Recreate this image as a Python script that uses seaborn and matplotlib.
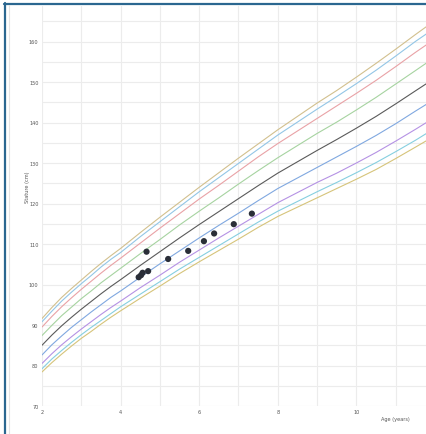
import matplotlib
matplotlib.use("Agg")
import matplotlib.pyplot as plt
from matplotlib.lines import Line2D
import pandas as pd
import seaborn as sns

# ---- data ----
ages = [2, 2.25, 2.5, 2.75, 3, 3.25, 3.5, 3.75, 4, 4.5, 5, 5.5, 6, 6.5, 7, 7.5,
        8, 8.5, 9, 9.5, 10, 10.5, 11, 11.5, 11.8]
p97 = [91.6, 94.3, 96.8, 99.0, 101.1, 103.2, 105.2, 107.1, 108.9, 112.8, 116.6, 120.3,
       124.0, 127.6, 131.2, 134.7, 138.2, 141.5, 144.8, 147.9, 151.2, 154.6, 158.1, 161.7, 163.8]
p95 = [90.8, 93.4, 95.9, 98.1, 100.2, 102.2, 104.3, 106.2, 107.9, 111.8, 115.5, 119.2,
       122.9, 126.4, 129.9, 133.4, 136.9, 140.1, 143.3, 146.4, 149.6, 152.9, 156.4, 160.0, 162.0]
p90 = [89.5, 92.1, 94.5, 96.7, 98.8, 100.8, 102.8, 104.7, 106.5, 110.2, 113.9, 117.5,
       121.1, 124.5, 128.0, 131.5, 134.8, 137.9, 141.0, 144.1, 147.2, 150.4, 153.8, 157.3, 159.3]
p75 = [87.4, 89.9, 92.3, 94.4, 96.5, 98.4, 100.4, 102.2, 104.0, 107.6, 111.1, 114.7,
       118.1, 121.4, 124.8, 128.1, 131.3, 134.3, 137.3, 140.1, 143.1, 146.2, 149.5, 152.8, 154.8]
p50 = [85.0, 87.5, 89.8, 91.9, 93.9, 95.8, 97.7, 99.5, 101.2, 104.7, 108.1, 111.5,
       114.8, 118.0, 121.2, 124.4, 127.5, 130.3, 133.1, 135.8, 138.6, 141.5, 144.6, 147.8, 149.7]
p25 = [82.6, 85.1, 87.3, 89.4, 91.3, 93.2, 95.0, 96.8, 98.4, 101.8, 105.1, 108.3,
       111.5, 114.6, 117.6, 120.7, 123.7, 126.3, 128.9, 131.5, 134.1, 136.8, 139.7, 142.8, 144.6]
p10 = [80.5, 82.9, 85.1, 87.1, 89.0, 90.8, 92.6, 94.3, 95.9, 99.2, 102.3, 105.5,
       108.5, 111.5, 114.4, 117.3, 120.2, 122.7, 125.2, 127.5, 130.0, 132.6, 135.4, 138.3, 140.1]
p5 = [79.2, 81.6, 83.7, 85.7, 87.6, 89.4, 91.1, 92.8, 94.5, 97.6, 100.7, 103.8,
      106.7, 109.6, 112.5, 115.4, 118.1, 120.5, 122.9, 125.2, 127.6, 130.1, 132.8, 135.6, 137.4]
p3 = [78.4, 80.7, 82.8, 84.8, 86.7, 88.4, 90.2, 91.9, 93.5, 96.6, 99.6, 102.7,
      105.6, 108.4, 111.2, 114.1, 116.8, 119.1, 121.4, 123.7, 126.0, 128.4, 131.1, 133.9, 135.6]

pt_age = [4.66, 4.46, 4.52, 4.56, 4.70, 5.21, 5.72, 6.12, 6.38, 6.88, 7.34]
pt_stature = [108.1, 101.8, 102.3, 102.9, 103.3, 106.3, 108.3, 110.7, 112.6, 114.9, 117.5]

x_ticks = [2, 4, 6, 8, 10]
y_ticks = [70, 80, 90, 100, 110, 120, 130, 140, 150, 160]

curves = {"P97": p97, "P95": p95, "P90": p90, "P75": p75, "P50": p50,
          "P25": p25, "P10": p10, "P5": p5, "P3": p3}
colors = {"P97": "#d2c08e", "P95": "#93c6e6", "P90": "#e9a2a6", "P75": "#a6d3a0",
          "P50": "#5a5a5a", "P25": "#80a8e0", "P10": "#b592e4", "P5": "#86cfe0",
          "P3": "#d6c47a"}

rows = []
for k, vals in curves.items():
    for a, v in zip(ages, vals):
        rows.append({"age": a, "stature": v, "pct": k})
df = pd.DataFrame(rows)
pts = pd.DataFrame({"age": pt_age, "stature": pt_stature})

sns.set_theme(style="white")
plt.rcParams["font.family"] = ["DejaVu Sans"]

W, H = 426, 435
fig = plt.figure(figsize=(W / 100, H / 100), dpi=100)
ax = fig.add_axes([42 / W, 28 / H, 1 - 42 / W, (407 - 7) / H])

ax.set_xlim(2, 2 + 384 / 39.3)
ax.set_ylim(70, 70 + 400 / 4.05)

# grid
for xv in range(2, 12):
    ax.axvline(xv, color="#ececec", lw=0.8, zorder=0)
for yv in range(70, 170, 5):
    ax.axhline(yv, color="#ececec", lw=0.8, zorder=0)

sns.lineplot(data=df, x="age", y="stature", hue="pct", palette=colors,
             hue_order=list(curves.keys()), legend=False, ax=ax, lw=0.8,
             estimator=None, sort=True)
sns.scatterplot(data=pts, x="age", y="stature", ax=ax, color="#2a2e38",
                s=20, edgecolor="none", zorder=5)

for s in ax.spines.values():
    s.set_visible(False)
ax.set_xticks(x_ticks)
ax.set_yticks(y_ticks)
ax.set_xticklabels([str(t) for t in x_ticks])
ax.set_yticklabels([str(t) for t in y_ticks])
ax.tick_params(axis="both", length=0, labelsize=3.6, labelcolor="#555555")
ax.tick_params(axis="y", pad=2.5)
ax.tick_params(axis="x", pad=2.5)
ax.set_xlabel("")
ax.set_ylabel("")

fig.text(27 / W, 1 - 187 / H, "Stature (cm)", rotation=90, fontsize=3.6,
         color="#555555", ha="center", va="center")
fig.text(395 / W, 1 - 420 / H, "Age (years)", fontsize=3.6,
         color="#555555", ha="center", va="center")

# panel frame
fig.add_artist(Line2D([4.5 / W, 4.5 / W], [0, 1 - 4 / H], color="#2b6790", lw=1.6,
                      transform=fig.transFigure))
fig.add_artist(Line2D([3.8 / W, 1], [1 - 5 / H, 1 - 5 / H], color="#2b6790", lw=1.6,
                      transform=fig.transFigure))
fig.add_artist(Line2D([8.5 / W, 8.5 / W], [0, 1 - 6 / H], color="#e3e3e3", lw=0.8,
                      transform=fig.transFigure))

fig.savefig("out.png", dpi=100)
